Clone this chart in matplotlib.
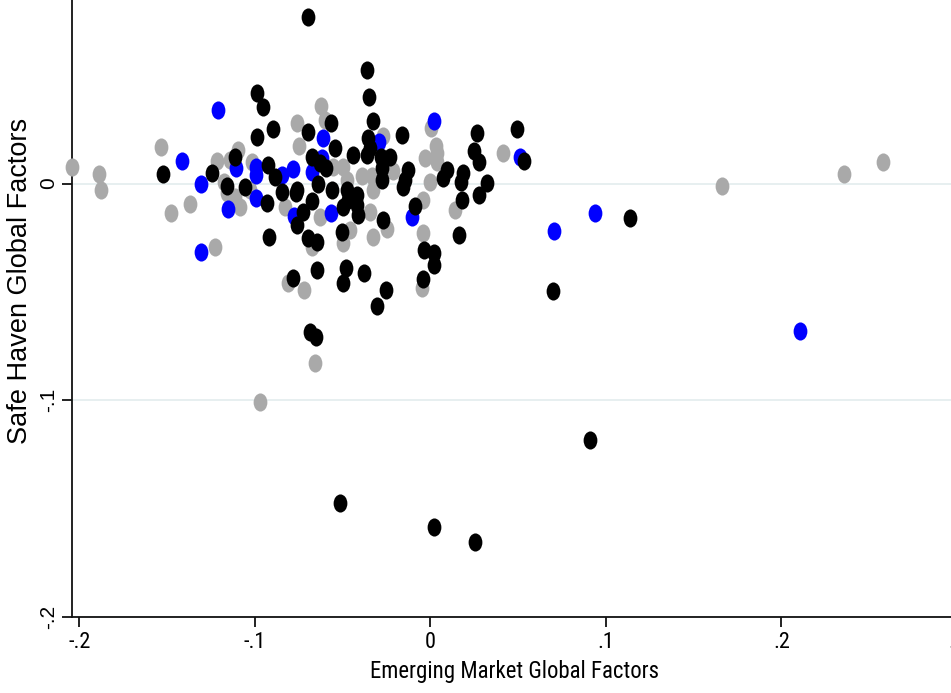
import matplotlib
matplotlib.use('Agg')
import matplotlib.pyplot as plt
from matplotlib.path import Path
from matplotlib.markers import MarkerStyle
from matplotlib.transforms import Affine2D
from matplotlib import font_manager
from matplotlib.font_manager import FontProperties

# black points (emerging market, safe haven)
black_x = [-0.0698, -0.0362, -0.0351, -0.0989, -0.0954, -0.0897, -0.0989, -0.1524, -0.1245, -0.1114,
           -0.1159, -0.1057, -0.0926, -0.0886, -0.0846, -0.0767, -0.0932, -0.0920, -0.0698, -0.0567,
           -0.0328, -0.0675, -0.0630, -0.0596, -0.0544, -0.0442, -0.0356, -0.0345, -0.0362, -0.0282,
           -0.0231, -0.0163, -0.0277, -0.0277, -0.0129, -0.0146, -0.0157, -0.0641, -0.0761, -0.0561,
           -0.0476, -0.0419, -0.0470, -0.0675, -0.0727, -0.0761, -0.0499, -0.0419, -0.0413, -0.0271,
           -0.0505, -0.0698, -0.0647, -0.0784, -0.0647, -0.0482, -0.0499, -0.0379, -0.0254, -0.0305,
           -0.0687, -0.0653, -0.0089, -0.0038, 0.0019, 0.0019, -0.0043, 0.0071, 0.0093, 0.0185,
           0.0173, 0.0247, 0.0276, 0.0264, 0.0321, 0.0276, 0.0179, 0.0162, 0.0492, 0.0532,
           0.0697, 0.0908, 0.1136, -0.0516, 0.0019, 0.0253]
black_y = [0.0769, 0.0524, 0.0400, 0.0418, 0.0353, 0.0252, 0.0215, 0.0044, 0.0048, 0.0122,
           -0.0012, -0.0016, 0.0085, 0.0030, -0.0039, -0.0044, -0.0090, -0.0247, 0.0238, 0.0279,
           0.0289, 0.0122, 0.0095, 0.0072, 0.0164, 0.0132, 0.0210, 0.0164, 0.0132, 0.0122,
           0.0122, 0.0224, 0.0072, 0.0016, 0.0062, 0.0016, -0.0016, -0.0002, -0.0030, -0.0030,
           -0.0030, -0.0053, -0.0076, -0.0081, -0.0132, -0.0192, -0.0109, -0.0099, -0.0145, -0.0169,
           -0.0224, -0.0252, -0.0270, -0.0436, -0.0400, -0.0390, -0.0460, -0.0413, -0.0492, -0.0566,
           -0.0686, -0.0709, -0.0104, -0.0307, -0.0321, -0.0376, -0.0441, 0.0025, 0.0062, 0.0048,
           0.0007, 0.0150, 0.0099, 0.0233, 0.0002, -0.0053, -0.0076, -0.0238, 0.0252, 0.0104,
           -0.0497, -0.1185, -0.0159, -0.1476, -0.1587, -0.1656]

gray_x = [-0.2040, -0.1888, -0.1877, -0.1535, -0.1478, -0.1370, -0.1228, -0.1216, -0.1142, -0.1097,
          -0.1177, -0.1114, -0.1085, -0.1017, -0.0761, -0.0749, -0.0624, -0.0829, -0.0675, -0.0721,
          -0.0812, -0.0630, -0.0499, -0.0476, -0.0556, -0.0391, -0.0334, -0.0271, -0.0214, -0.0328,
          -0.0248, -0.0459, -0.0499, -0.0032, 0.0036, 0.0031, -0.0003, -0.0043, -0.0043, 0.0139,
          -0.0049, 0.0002, 0.0412, 0.1659, 0.2354, 0.2576, -0.0972, -0.0658, -0.1159, -0.0328,
          -0.0345, -0.0601, 0.0036, -0.1028]
gray_y = [0.0076, 0.0044, -0.0030, 0.0169, -0.0136, -0.0095, -0.0293, 0.0104, 0.0109, 0.0155,
          0.0007, -0.0062, -0.0109, 0.0099, 0.0279, 0.0173, 0.0358, -0.0109, -0.0293, -0.0492,
          -0.0460, -0.0155, 0.0076, 0.0016, 0.0076, 0.0035, 0.0035, 0.0219, 0.0058, -0.0247,
          -0.0210, -0.0215, -0.0275, 0.0118, 0.0141, 0.0173, 0.0007, -0.0076, -0.0229, -0.0122,
          -0.0483, 0.0256, 0.0141, -0.0012, 0.0044, 0.0099, -0.1009, -0.0829, -0.0044, -0.0030,
          -0.0132, 0.0293, 0.0099, -0.0030]

blue_x = [-0.1211, -0.1416, -0.1307, -0.1154, -0.1307, -0.1108, -0.0994, -0.0994, -0.0994, -0.0846,
          -0.0784, -0.0675, -0.0613, -0.0618, -0.0294, 0.0019, -0.0567, -0.0778, -0.0106, 0.0509,
          0.0703, 0.0936, 0.2104]
blue_y = [0.0339, 0.0104, -0.0002, -0.0118, -0.0316, 0.0072, 0.0076, 0.0039, -0.0067, 0.0039,
          0.0067, 0.0053, 0.0210, 0.0118, 0.0192, 0.0289, -0.0136, -0.0150, -0.0155, 0.0122,
          -0.0219, -0.0136, -0.0681]

xticks = [-0.2, -0.1, 0, 0.1, 0.2, 0.3]
xtick_labels = ['-.2', '-.1', '0', '.1', '.2', '.3']
yticks = [-0.2, -0.1, 0]
ytick_labels = ['-.2', '-.1', '0']

plt.rcParams['font.family'] = ['Liberation Sans', 'DejaVu Sans']

# look for a narrow face for the x axis texts (the source is squeezed sideways)
narrow_fp = None
for key in ['LiberationSansNarrow-Regular', 'RobotoCondensed-Regular', 'DejaVuSansCondensed.ttf']:
    for f in font_manager.fontManager.ttflist:
        if key in f.fname:
            narrow_fp = f.fname
            break
    if narrow_fp:
        break

ellipse = MarkerStyle(Path.unit_circle().transformed(Affine2D().scale(0.76, 1.0)))

fig = plt.figure(figsize=(9.51, 6.93), dpi=100)
# plot region runs a little past the right and top edges of the picture
ax = fig.add_axes([0.0753, 0.1097, 1.0063 - 0.0753, 1.079 - 0.1097])

msize = 170
ax.scatter(gray_x, gray_y, s=msize, marker=ellipse, color='#a9a9a9', linewidths=0, clip_on=False, zorder=3)
ax.scatter(blue_x, blue_y, s=msize, marker=ellipse, color='#0000ff', linewidths=0, clip_on=False, zorder=4)
ax.scatter(black_x, black_y, s=msize, marker=ellipse, color='#000000', linewidths=0, clip_on=False, zorder=5)

ax.set_xlim(-0.2044, 0.2997)
ax.set_ylim(-0.2, 0.110)

ax.set_xticks(xticks)
ax.set_xticklabels(xtick_labels)
ax.set_yticks(yticks)
ax.set_yticklabels(ytick_labels, fontsize=15, rotation=90, va='center')

ax.yaxis.grid(True, color='#e3ecee', linewidth=1.2)
ax.set_axisbelow(True)

for side in ['top', 'right']:
    ax.spines[side].set_visible(False)
for side in ['left', 'bottom']:
    ax.spines[side].set_linewidth(1.3)
    ax.spines[side].set_color('#111111')
ax.tick_params(axis='both', direction='out', length=7, width=1.3, color='#111111')
ax.tick_params(axis='x', pad=4)
ax.tick_params(axis='y', pad=3)

xlab = ax.set_xlabel('Emerging Market Global Factors', labelpad=5)
ax.set_ylabel('Safe Haven Global Factors', fontsize=19.5, labelpad=4)

# size the x label so it is as wide as in the source (about 288 px)
fp = FontProperties(fname=narrow_fp) if narrow_fp else FontProperties(family='Liberation Sans')
xlab.set_fontproperties(fp)
xlab.set_fontsize(18)
fig.canvas.draw()
w = xlab.get_window_extent().width
xlab.set_fontsize(18 * 288.0 / w)
for t in ax.get_xticklabels():
    t.set_fontproperties(fp)
    t.set_fontsize(16 if narrow_fp else 15)

fig.savefig('out.png', dpi=100)
